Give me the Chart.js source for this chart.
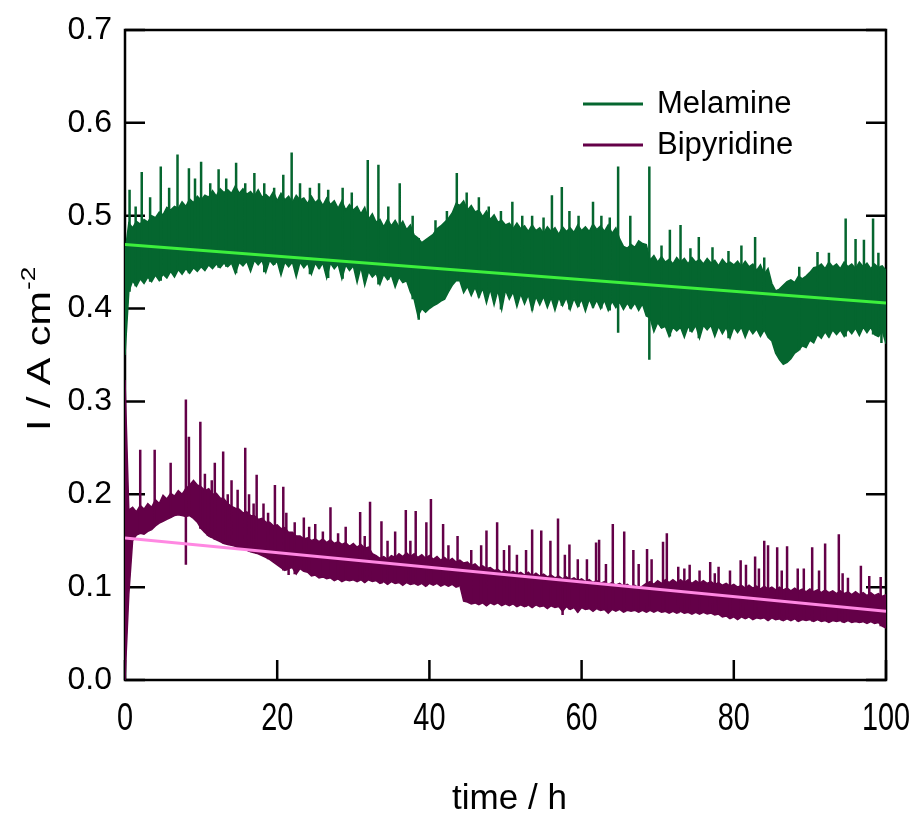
<!DOCTYPE html>
<html>
<head>
<meta charset="utf-8">
<script src="https://cdn.jsdelivr.net/npm/chart.js@4.4.1/dist/chart.umd.min.js"></script>
<style>
  html, body { margin: 0; padding: 0; background: #ffffff; }
  canvas { display: block; }
</style>
</head>
<body>
<canvas id="chart" width="915" height="813"></canvas>
<script>
// Current density logged every half hour (upper and lower edge of the recorded trace), A cm^-2
const melamineTop = [
  0.460,0.492,0.487,0.494,0.491,0.496,0.493,0.500,0.498,0.504,
  0.501,0.509,0.506,0.510,0.508,0.515,0.510,0.518,0.514,0.521,
  0.517,0.522,0.520,0.527,0.521,0.529,0.525,0.528,0.524,0.532,
  0.524,0.529,0.523,0.526,0.521,0.528,0.520,0.523,0.519,0.526,
  0.516,0.524,0.517,0.521,0.514,0.522,0.517,0.519,0.513,0.521,
  0.514,0.518,0.511,0.519,0.512,0.516,0.508,0.516,0.506,0.512,
  0.506,0.510,0.502,0.509,0.496,0.502,0.493,0.496,0.488,0.496,
  0.489,0.495,0.488,0.494,0.485,0.490,0.479,0.476,0.471,0.474,
  0.477,0.480,0.486,0.489,0.493,0.497,0.503,0.513,0.511,0.516,
  0.506,0.511,0.504,0.506,0.499,0.505,0.496,0.501,0.493,0.495,
  0.490,0.492,0.486,0.492,0.486,0.489,0.483,0.490,0.484,0.487,
  0.481,0.488,0.483,0.487,0.480,0.488,0.483,0.487,0.482,0.490,
  0.484,0.488,0.483,0.491,0.485,0.489,0.483,0.490,0.481,0.487,
  0.475,0.467,0.465,0.469,0.466,0.473,0.470,0.469,0.452,0.457,
  0.450,0.456,0.450,0.453,0.448,0.455,0.450,0.454,0.448,0.455,
  0.450,0.453,0.448,0.454,0.449,0.452,0.446,0.453,0.448,0.450,
  0.447,0.451,0.445,0.451,0.445,0.448,0.441,0.447,0.437,0.443,
  0.427,0.419,0.421,0.425,0.429,0.431,0.428,0.435,0.432,0.435,
  0.439,0.444,0.445,0.448,0.443,0.450,0.445,0.448,0.443,0.450,
  0.445,0.448,0.443,0.450,0.445,0.449,0.443,0.448,0.444,0.446,
  0.441
];
const melamineBottom = [
  0.350,0.418,0.430,0.424,0.432,0.427,0.434,0.429,0.436,0.430,
  0.437,0.433,0.440,0.434,0.442,0.437,0.443,0.438,0.444,0.440,
  0.445,0.441,0.447,0.443,0.448,0.444,0.449,0.445,0.449,0.438,
  0.450,0.446,0.451,0.440,0.452,0.447,0.452,0.439,0.452,0.447,
  0.451,0.436,0.450,0.445,0.450,0.434,0.450,0.444,0.449,0.437,
  0.449,0.443,0.449,0.433,0.449,0.443,0.448,0.432,0.447,0.441,
  0.446,0.428,0.445,0.425,0.440,0.434,0.438,0.426,0.437,0.431,
  0.436,0.423,0.434,0.428,0.430,0.418,0.410,0.392,0.400,0.396,
  0.400,0.403,0.405,0.408,0.410,0.418,0.425,0.430,0.430,0.417,
  0.424,0.414,0.423,0.412,0.422,0.406,0.421,0.404,0.420,0.399,
  0.420,0.410,0.418,0.402,0.416,0.405,0.415,0.398,0.413,0.404,
  0.413,0.401,0.412,0.398,0.412,0.403,0.412,0.399,0.411,0.402,
  0.410,0.397,0.410,0.401,0.409,0.400,0.409,0.398,0.408,0.401,
  0.407,0.399,0.406,0.400,0.406,0.398,0.405,0.392,0.390,0.375,
  0.385,0.379,0.381,0.370,0.380,0.376,0.380,0.369,0.381,0.375,
  0.382,0.368,0.382,0.377,0.382,0.370,0.381,0.373,0.380,0.368,
  0.380,0.374,0.380,0.369,0.379,0.373,0.378,0.370,0.377,0.369,
  0.365,0.352,0.345,0.340,0.342,0.346,0.352,0.355,0.360,0.358,
  0.366,0.363,0.372,0.368,0.375,0.369,0.377,0.372,0.377,0.370,
  0.378,0.373,0.379,0.371,0.380,0.374,0.380,0.372,0.370,0.376,
  0.362
];
const bipyridineTop = [
  0.323,0.183,0.186,0.181,0.188,0.184,0.190,0.186,0.194,0.190,
  0.199,0.195,0.201,0.198,0.204,0.200,0.206,0.210,0.215,0.210,
  0.208,0.204,0.206,0.200,0.201,0.196,0.195,0.190,0.187,0.185,
  0.184,0.180,0.181,0.177,0.177,0.173,0.174,0.170,0.170,0.166,
  0.167,0.163,0.164,0.159,0.159,0.155,0.155,0.152,0.153,0.150,
  0.152,0.149,0.152,0.148,0.151,0.147,0.149,0.146,0.148,0.144,
  0.147,0.143,0.146,0.142,0.143,0.136,0.134,0.131,0.133,0.130,
  0.134,0.132,0.136,0.133,0.137,0.133,0.136,0.132,0.135,0.131,
  0.134,0.130,0.133,0.129,0.132,0.128,0.131,0.127,0.129,0.126,
  0.127,0.123,0.125,0.121,0.123,0.120,0.121,0.118,0.119,0.116,
  0.118,0.115,0.117,0.114,0.116,0.113,0.116,0.112,0.115,0.112,
  0.114,0.111,0.113,0.110,0.112,0.109,0.111,0.108,0.110,0.107,
  0.109,0.106,0.108,0.105,0.107,0.104,0.106,0.103,0.105,0.102,
  0.104,0.101,0.103,0.100,0.102,0.099,0.101,0.104,0.106,0.103,
  0.107,0.104,0.108,0.105,0.108,0.105,0.108,0.105,0.108,0.104,
  0.107,0.104,0.107,0.104,0.106,0.103,0.105,0.102,0.104,0.101,
  0.103,0.100,0.102,0.099,0.102,0.099,0.101,0.098,0.101,0.098,
  0.100,0.097,0.100,0.097,0.099,0.096,0.099,0.096,0.098,0.095,
  0.098,0.095,0.097,0.094,0.097,0.094,0.096,0.093,0.096,0.093,
  0.095,0.092,0.095,0.092,0.094,0.091,0.094,0.091,0.093,0.090,
  0.092
];
const bipyridineBottom = [
  0.000,0.092,0.150,0.156,0.158,0.157,0.160,0.162,0.166,0.169,
  0.171,0.173,0.175,0.177,0.178,0.177,0.176,0.177,0.174,0.170,
  0.163,0.159,0.155,0.153,0.151,0.149,0.147,0.146,0.145,0.144,
  0.142,0.141,0.140,0.138,0.137,0.136,0.134,0.132,0.130,0.127,
  0.124,0.121,0.118,0.120,0.121,0.114,0.120,0.117,0.116,0.112,
  0.113,0.110,0.111,0.109,0.110,0.107,0.109,0.106,0.108,0.107,
  0.108,0.106,0.108,0.105,0.108,0.106,0.107,0.104,0.106,0.103,
  0.106,0.104,0.105,0.102,0.105,0.103,0.104,0.102,0.104,0.101,
  0.104,0.102,0.104,0.101,0.103,0.101,0.103,0.100,0.102,0.085,
  0.084,0.082,0.083,0.081,0.083,0.080,0.083,0.081,0.083,0.080,
  0.082,0.080,0.082,0.079,0.081,0.079,0.081,0.078,0.081,0.079,
  0.080,0.077,0.080,0.078,0.079,0.074,0.079,0.076,0.078,0.073,
  0.078,0.076,0.077,0.074,0.077,0.075,0.076,0.072,0.076,0.074,
  0.076,0.073,0.075,0.074,0.075,0.073,0.075,0.073,0.075,0.073,
  0.075,0.073,0.074,0.072,0.074,0.072,0.074,0.072,0.073,0.071,
  0.073,0.071,0.073,0.071,0.072,0.070,0.071,0.068,0.069,0.066,
  0.068,0.065,0.068,0.066,0.068,0.065,0.067,0.066,0.067,0.064,
  0.067,0.065,0.066,0.064,0.066,0.064,0.066,0.063,0.065,0.064,
  0.065,0.063,0.065,0.063,0.064,0.062,0.064,0.063,0.064,0.062,
  0.064,0.062,0.063,0.062,0.063,0.061,0.063,0.061,0.062,0.058,
  0.056
];

// Short current bursts: [time / h, peak current]
const melamineSpikesUp = [
  [0.6,0.528],[1.4,0.510],[2.2,0.547],[3.3,0.520],[4.7,0.553],[5.8,0.530],
  [6.9,0.566],[8.4,0.551],[9.2,0.540],[10.0,0.558],[11.2,0.535],[12.3,0.550],
  [13.3,0.540],[14.6,0.557],[15.8,0.535],[17.0,0.546],[18.3,0.535],[19.6,0.530],
  [20.8,0.544],[21.9,0.568],[23.0,0.535],[24.3,0.530],[25.5,0.535],[26.7,0.528],
  [28.6,0.530],[29.8,0.525],[31.9,0.560],[33.3,0.555],[34.6,0.510],[36.1,0.535],
  [37.8,0.500],[40.8,0.495],[42.3,0.505],[43.6,0.546],[44.9,0.525],[46.5,0.520],
  [47.8,0.510],[49.4,0.505],[50.9,0.515],[52.2,0.500],[53.5,0.500],[55.0,0.498],
  [56.1,0.522],[57.4,0.531],[58.4,0.505],[59.6,0.500],[61.5,0.515],[62.6,0.500],
  [63.7,0.498],[64.8,0.553],[66.4,0.500],[68.9,0.553],[70.5,0.468],[71.6,0.485],
  [73.0,0.490],[74.3,0.465],[75.4,0.477],[77.2,0.466],[79.3,0.462],[81.0,0.468],
  [82.8,0.477],[84.0,0.455],[88.6,0.445],[91.0,0.461],[92.5,0.460],[94.7,0.497],
  [96.0,0.475],[97.1,0.474],[98.3,0.497],[99.0,0.460]
];
const melamineSpikesDown = [
  [38.6,0.388],[64.8,0.374],[68.9,0.345],[99.4,0.363]
];
const bipyridineSpikesUp = [
  [2.0,0.248],[3.9,0.248],[6.0,0.234],[8.0,0.302],[8.4,0.262],[9.9,0.278],
  [10.5,0.222],[10.9,0.205],[11.4,0.215],[11.8,0.234],[12.9,0.246],[13.5,0.200],
  [14.0,0.215],[14.8,0.205],[15.8,0.250],[16.3,0.200],[16.9,0.190],[17.3,0.221],
  [18.2,0.190],[18.8,0.180],[19.7,0.210],[20.8,0.208],[21.2,0.180],[22.3,0.170],
  [23.5,0.175],[24.2,0.165],[25.0,0.168],[26.0,0.160],[27.0,0.186],[28.0,0.158],
  [29.0,0.165],[30.9,0.181],[31.5,0.155],[32.2,0.192],[33.7,0.171],[34.5,0.150],
  [35.5,0.160],[36.9,0.183],[37.5,0.150],[38.2,0.182],[39.6,0.170],[40.2,0.195],
  [41.8,0.168],[42.5,0.145],[43.7,0.155],[45.5,0.140],[46.8,0.145],[47.5,0.161],
  [48.9,0.170],[49.8,0.140],[50.5,0.145],[51.5,0.135],[52.7,0.140],[53.5,0.162],
  [54.7,0.161],[55.9,0.150],[56.9,0.174],[57.8,0.135],[58.4,0.146],[59.5,0.130],
  [60.7,0.130],[61.9,0.148],[62.3,0.151],[63.2,0.125],[64.1,0.168],[65.6,0.160],
  [66.8,0.140],[67.5,0.125],[68.6,0.141],[69.2,0.130],[70.7,0.149],[71.2,0.158],
  [72.7,0.122],[73.5,0.120],[74.2,0.124],[75.5,0.118],[76.9,0.127],[77.5,0.115],
  [78.0,0.122],[79.5,0.118],[80.9,0.129],[81.6,0.124],[82.8,0.133],[83.3,0.120],
  [84.0,0.150],[84.5,0.145],[85.7,0.143],[86.3,0.118],[87.0,0.144],[88.4,0.120],
  [89.2,0.120],[90.3,0.143],[91.2,0.118],[92.0,0.147],[93.8,0.157],[94.3,0.115],
  [95.0,0.110],[96.7,0.123],[97.8,0.112],[99.3,0.111]
];
const bipyridineSpikesDown = [
  [8.0,0.124],[21.5,0.113],[57.5,0.070]
];

// Linear fits: [time / h, current]
const melamineFit = [[0,0.469],[100,0.406]];
const bipyridineFit = [[0,0.153],[100,0.074]];

const timeTicks = [0, 20, 40, 60, 80, 100];
const currentTicks = [0.0, 0.1, 0.2, 0.3, 0.4, 0.5, 0.6, 0.7];

const SAMPLE_STEP = 0.5; // hours between logged samples

const GREEN = '#05662f';
const GREEN_FIT = '#3cf03c';
const PURPLE = '#640048';
const PINK_FIT = '#ff88e2';

const toPoints = arr => arr.map((v, i) => ({ x: i * SAMPLE_STEP, y: v }));
const toPairs = arr => arr.map(([t, v]) => ({ x: t, y: v }));
// vertical strokes from the trace edge to each burst value
function bursts(list, edge) {
  const pts = [];
  list.forEach(([t, v]) => {
    const from = edge[Math.round(t / SAMPLE_STEP)];
    pts.push({ x: t, y: from }, { x: t, y: v }, { x: t, y: null });
  });
  return pts;
}

const regular = "'Liberation Sans', Arial, sans-serif";

// box frame with inward tick marks
const frame = {
  id: 'frame',
  beforeDatasetsDraw(chart) {
    const { ctx, chartArea: a, scales: { x, y } } = chart;
    ctx.save();
    ctx.strokeStyle = '#000';
    ctx.lineWidth = 2.5;
    ctx.strokeRect(a.left, a.top, a.right - a.left, a.bottom - a.top);
    ctx.beginPath();
    y.ticks.forEach(t => {
      const py = y.getPixelForValue(t.value);
      ctx.moveTo(a.left, py); ctx.lineTo(a.left + 20, py);
      ctx.moveTo(a.right, py); ctx.lineTo(a.right - 20, py);
    });
    x.ticks.forEach(t => {
      const px = x.getPixelForValue(t.value);
      ctx.moveTo(px, a.bottom); ctx.lineTo(px, a.bottom - 20);
    });
    ctx.stroke();
    ctx.restore();
  }
};

// condensed time tick labels and the time axis title
const timeAxisText = {
  id: 'timeAxisText',
  afterDraw(chart) {
    const { ctx, chartArea: a, scales: { x } } = chart;
    ctx.save();
    ctx.fillStyle = '#000';
    ctx.textAlign = 'center';
    ctx.textBaseline = 'alphabetic';
    ctx.font = '39px ' + regular;
    x.ticks.forEach(t => {
      const px = x.getPixelForValue(t.value);
      ctx.save();
      ctx.translate(px, a.bottom + 50);
      ctx.scale(0.74, 1);
      ctx.fillText(String(t.value), 0, 0);
      ctx.restore();
    });
    ctx.font = '35px ' + regular;
    ctx.fillText('time / h', (a.left + a.right) / 2 + 4, 809);
    ctx.restore();
  }
};

// series key in the upper right of the plot
const seriesKey = {
  id: 'seriesKey',
  afterDatasetsDraw(chart) {
    const ctx = chart.ctx;
    const a = chart.chartArea;
    let row = 0;
    ctx.save();
    chart.data.datasets.filter(d => d.inKey).forEach(d => {
      const yLine = a.top + 74 + row * 41;
      ctx.strokeStyle = d.borderColor;
      ctx.lineWidth = 3;
      ctx.beginPath();
      ctx.moveTo(a.left + 458, yLine);
      ctx.lineTo(a.left + 518, yLine);
      ctx.stroke();
      ctx.fillStyle = '#000';
      ctx.font = '31px ' + regular;
      ctx.textBaseline = 'alphabetic';
      ctx.fillText(d.label, a.left + 532, yLine + 9);
      row++;
    });
    ctx.restore();
  }
};

// rotated y-axis title with superscript exponent
const yTitle = {
  id: 'yTitle',
  afterDraw(chart) {
    const ctx = chart.ctx;
    ctx.save();
    ctx.translate(50, 431);
    ctx.rotate(-Math.PI / 2);
    ctx.scale(1.25, 1);
    ctx.fillStyle = '#000';
    ctx.textBaseline = 'alphabetic';
    ctx.font = '33px ' + regular;
    const main = 'I / A cm';
    ctx.fillText(main, 0, 0);
    const w = ctx.measureText(main).width;
    ctx.font = '21px ' + regular;
    ctx.fillText('-2', w + 1, -15);
    ctx.restore();
  }
};

new Chart(document.getElementById('chart'), {
  type: 'line',
  data: {
    datasets: [
      { label: 'Melamine fit', data: toPairs(melamineFit), borderColor: GREEN_FIT, borderWidth: 3, order: 0 },
      { label: 'Bipyridine fit', data: toPairs(bipyridineFit), borderColor: PINK_FIT, borderWidth: 3, order: 0 },
      { label: 'Melamine', inKey: true, data: toPoints(melamineTop), borderColor: GREEN, backgroundColor: GREEN, borderWidth: 1.5, fill: 3, order: 3 },
      { label: 'Melamine low', data: toPoints(melamineBottom), borderColor: GREEN, borderWidth: 1.5, order: 3 },
      { label: 'Melamine bursts', data: bursts(melamineSpikesUp, melamineBottom), borderColor: GREEN, borderWidth: 2.5, spanGaps: false, order: 2 },
      { label: 'Melamine dips', data: bursts(melamineSpikesDown, melamineTop), borderColor: GREEN, borderWidth: 2.5, spanGaps: false, order: 2 },
      { label: 'Bipyridine', inKey: true, data: toPoints(bipyridineTop), borderColor: PURPLE, backgroundColor: PURPLE, borderWidth: 1.5, fill: 7, order: 3 },
      { label: 'Bipyridine low', data: toPoints(bipyridineBottom), borderColor: PURPLE, borderWidth: 1.5, order: 3 },
      { label: 'Bipyridine bursts', data: bursts(bipyridineSpikesUp, bipyridineBottom), borderColor: PURPLE, borderWidth: 2.5, spanGaps: false, order: 2 },
      { label: 'Bipyridine dips', data: bursts(bipyridineSpikesDown, bipyridineTop), borderColor: PURPLE, borderWidth: 2.5, spanGaps: false, order: 2 }
    ]
  },
  options: {
    responsive: false,
    animation: false,
    events: [],
    layout: { padding: { top: 30, right: 29, left: 0, bottom: 0 } },
    elements: { point: { radius: 0 }, line: { tension: 0 } },
    plugins: { legend: { display: false }, tooltip: { enabled: false } },
    scales: {
      x: {
        type: 'linear',
        min: timeTicks[0],
        max: timeTicks[timeTicks.length - 1],
        afterBuildTicks: s => { s.ticks = timeTicks.map(v => ({ value: v })); },
        ticks: { display: false },
        grid: { display: false, drawTicks: false },
        border: { display: false },
        afterFit: s => { s.height = 133; s.paddingLeft = 0; s.paddingRight = 0; }
      },
      y: {
        type: 'linear',
        min: currentTicks[0],
        max: currentTicks[currentTicks.length - 1],
        afterBuildTicks: s => { s.ticks = currentTicks.map(v => ({ value: v })); },
        ticks: { color: '#000', padding: 13, callback: v => Number(v).toFixed(1), font: { family: regular, size: 32 } },
        grid: { display: false, drawTicks: false },
        border: { display: false },
        afterFit: s => { s.width = 125; s.paddingTop = 0; s.paddingBottom = 0; }
      }
    }
  },
  plugins: [frame, timeAxisText, seriesKey, yTitle]
});
</script>
</body>
</html>
